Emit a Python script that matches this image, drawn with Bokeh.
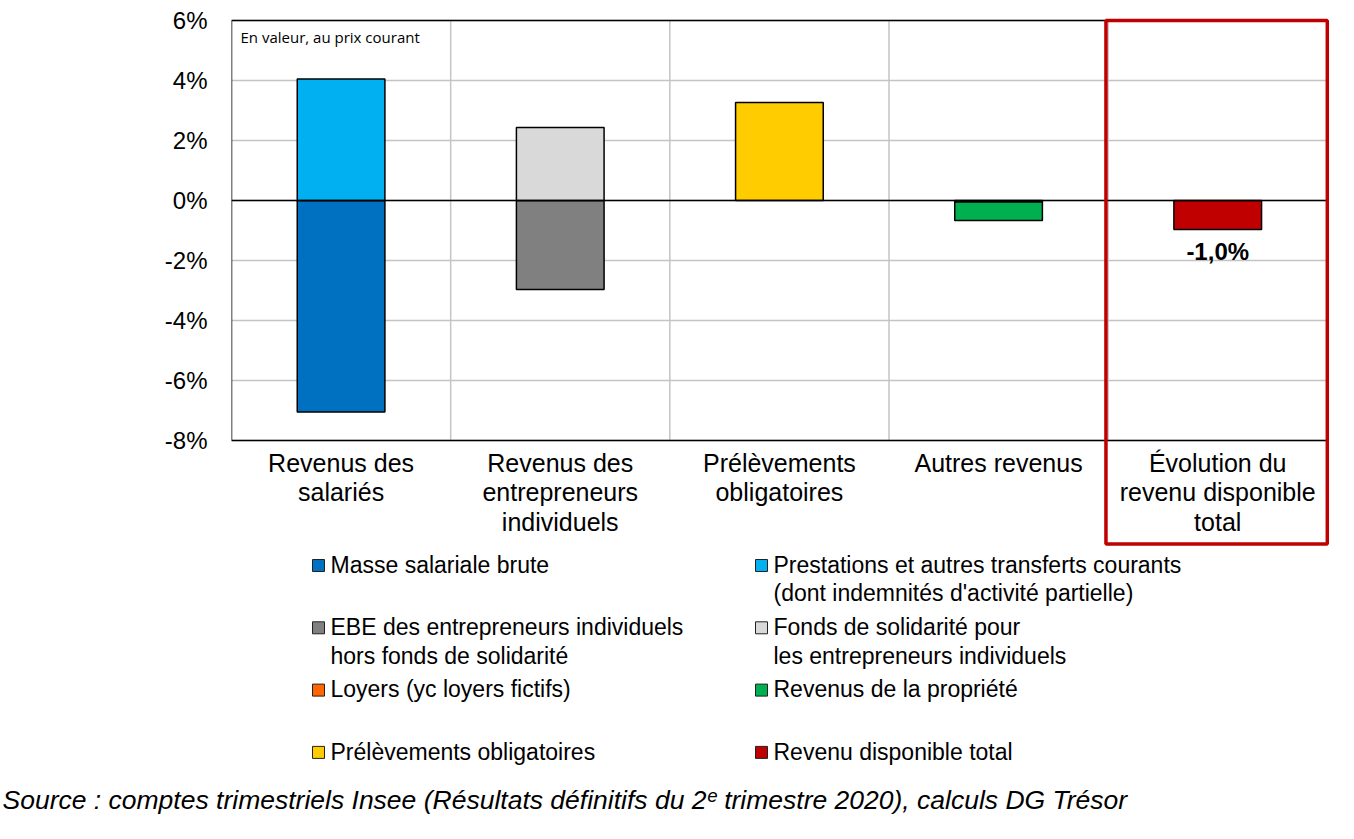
from bokeh.plotting import figure
from bokeh.models import Range1d, Label, FixedTicker, PrintfTickFormatter, Title
from bokeh.core.properties import value
from bokeh.embed import file_html
from bokeh.resources import INLINE

# ---------------- data ----------------
categories = ["Revenus des\nsalariés", "Revenus des\nentrepreneurs\nindividuels",
              "Prélèvements\nobligatoires", "Autres revenus",
              "Évolution du\nrevenu disponible\ntotal"]

series_names = ["Masse salariale brute",
                "Prestations et autres transferts courants\n(dont indemnités d'activité partielle)",
                "EBE des entrepreneurs individuels\nhors fonds de solidarité",
                "Fonds de solidarité pour\nles entrepreneurs individuels",
                "Loyers (yc loyers fictifs)",
                "Revenus de la propriété",
                "Prélèvements obligatoires",
                "Revenu disponible total"]
series_colors = ["#0070C0", "#00B0F0", "#808080", "#D9D9D9",
                 "#FF6600", "#00B050", "#FFCC00", "#C00000"]

masse_salariale = [-7.05, 0, 0, 0, 0]
prestations = [4.05, 0, 0, 0, 0]
ebe = [0, -2.97, 0, 0, 0]
fonds_solidarite = [0, 2.43, 0, 0, 0]
loyers = [0, 0, 0, -0.05, 0]
revenus_propriete = [0, 0, 0, -0.62, 0]
prelevements = [0, 0, 3.27, 0, 0]
revenu_total = [0, 0, 0, 0, -0.97]
series_values = [masse_salariale, prestations, ebe, fonds_solidarite,
                 loyers, revenus_propriete, prelevements, revenu_total]

y_ticks = [-8, -6, -4, -2, 0, 2, 4, 6]
note = "En valeur, au prix courant"
source = "Source : comptes trimestriels Insee (Résultats définitifs du 2ᵉ trimestre 2020), calculs DG Trésor"

FONT = "Liberation Sans"

# ---------------- geometry (pixels) ----------------
W, H = 1350, 835
FL, FR, FT, FB = 231, 1329, 17, 780          # frame box in pixels
PX_PER_PCT = 30.0
Y_TOP_PIX = 20                                # pixel row of top tick
y_hi = y_ticks[-1] + (Y_TOP_PIX - FT) / PX_PER_PCT
y_lo = y_ticks[-1] - (FB - Y_TOP_PIX) / PX_PER_PCT
n = len(categories)
x_hi = n + 0.01

def py(pix):  # pixel row -> data y
    return y_ticks[-1] - (pix - Y_TOP_PIX) / PX_PER_PCT

p = figure(x_range=Range1d(0, x_hi), y_range=Range1d(y_lo, y_hi),
           width=W, height=H, output_backend="svg", toolbar_location=None,
           min_border_left=FL, min_border_right=W - FR, min_border_top=FT, min_border_bottom=H - FB)
p.extra_x_ranges = {"px": Range1d(FL, FR)}
p.extra_y_ranges = {"px": Range1d(FB, FT)}
p.outline_line_color = None
p.grid.visible = False
p.xaxis.visible = False

# y axis (ticks only as labels)
p.yaxis.ticker = FixedTicker(ticks=y_ticks)
p.yaxis.formatter = PrintfTickFormatter(format="%d%%")
p.yaxis.axis_line_color = None
p.yaxis.major_tick_line_color = None
p.yaxis.minor_tick_line_color = None
p.yaxis.major_label_standoff = 18
p.yaxis.major_label_text_font = FONT
p.yaxis.major_label_text_font_size = "24px"
p.yaxis.major_label_text_color = "black"

# gridlines
GRID = "#C4C4C4"
p.segment(x0=[0] * len(y_ticks), x1=[n] * len(y_ticks), y0=y_ticks, y1=y_ticks,
          line_color=GRID, line_width=1.5)
p.segment(x0=list(range(1, n)), x1=list(range(1, n)), y0=[y_ticks[0]] * (n - 1),
          y1=[y_ticks[-1]] * (n - 1), line_color=GRID, line_width=1.5)

# stacked bars
xc = [i + 0.5 for i in range(n)]
pos_acc = [0.0] * n
neg_acc = [0.0] * n
for vals, col in zip(series_values, series_colors):
    xs, tops, bottoms = [], [], []
    for i, v in enumerate(vals):
        if v == 0:
            continue
        if v > 0:
            b, t = pos_acc[i], pos_acc[i] + v
            pos_acc[i] = t
        else:
            t, b = neg_acc[i], neg_acc[i] + v
            neg_acc[i] = b
        xs.append(xc[i]); tops.append(t); bottoms.append(b)
    if xs:
        p.vbar(x=xs, top=tops, bottom=bottoms, width=0.4, fill_color=col,
               line_color="black", line_width=1.5)

# zero line and plot-area border
p.segment(x0=[0], x1=[n], y0=[0], y1=[0], line_color="black", line_width=1.5)
p.quad(left=[0], right=[n], top=[y_ticks[-1]], bottom=[y_ticks[0]], fill_color=None,
       line_color="black", line_width=1.5)

# category labels
CAT_FS, CAT_LH = 25, 1.07
p.text(x=xc, y=[y_ticks[0]] * n, text=categories, y_offset=8, text_align="center",
       text_baseline="top", text_font=value(FONT), text_font_size="%dpx" % CAT_FS,
       text_line_height=CAT_LH, text_color="black")

# red highlight box around the last category
p.quad(left=[n - 1 - 0.01], right=[n], top=[y_ticks[-1]], bottom=[py(543.5)], fill_color=None,
       line_color="#C00000", line_width=3.5)

# note
p.add_layout(Label(x=0, y=y_ticks[-1], x_offset=9, y_offset=-6, text=note,
                   text_baseline="top", text_font="Open Sans", text_font_size="15px",
                   text_color="black"))

# total label
tot_x = [xc[i] for i, v in enumerate(revenu_total) if v != 0]
tot_y = [v for v in revenu_total if v != 0]
tot_txt = [("%.1f" % v).replace(".", ",") + "%" for v in tot_y]
p.text(x=tot_x, y=tot_y, text=tot_txt, y_offset=8, text_align="center", text_baseline="top",
       text_font=value(FONT), text_font_size="24px", text_font_style="bold", text_color="black")

# legend (pixel coordinates)
LEG_FS = 23
LEG_LH = 1.1
col_sq_x = [318, 761]
row0, row_h = 565, 62.3
sq_x, sq_y, t_x, t_y = [], [], [], []
for i, name in enumerate(series_names):
    c, r = i % 2, i // 2
    cy = row0 + r * row_h
    sq_x.append(col_sq_x[c]); sq_y.append(cy)
    t_x.append(col_sq_x[c] + 12); t_y.append(cy - LEG_FS * LEG_LH / 2 - 1)
p.rect(x=sq_x, y=sq_y, width=12, height=12, fill_color=series_colors, line_color="#222222",
       line_width=1, x_range_name="px", y_range_name="px")
p.text(x=t_x, y=t_y, text=series_names, text_baseline="top", text_align="left",
       text_font=value(FONT), text_font_size="%.1fpx" % LEG_FS, text_line_height=LEG_LH,
       text_color="black", x_range_name="px", y_range_name="px")

# source
p.add_layout(Title(text=source, align="left", offset=-(FL - 2), text_font=FONT,
                   text_font_size="26.5px", text_font_style="italic", text_color="black",
                   standoff=5), "below")

open("out.html", "w").write(file_html(p, INLINE))
